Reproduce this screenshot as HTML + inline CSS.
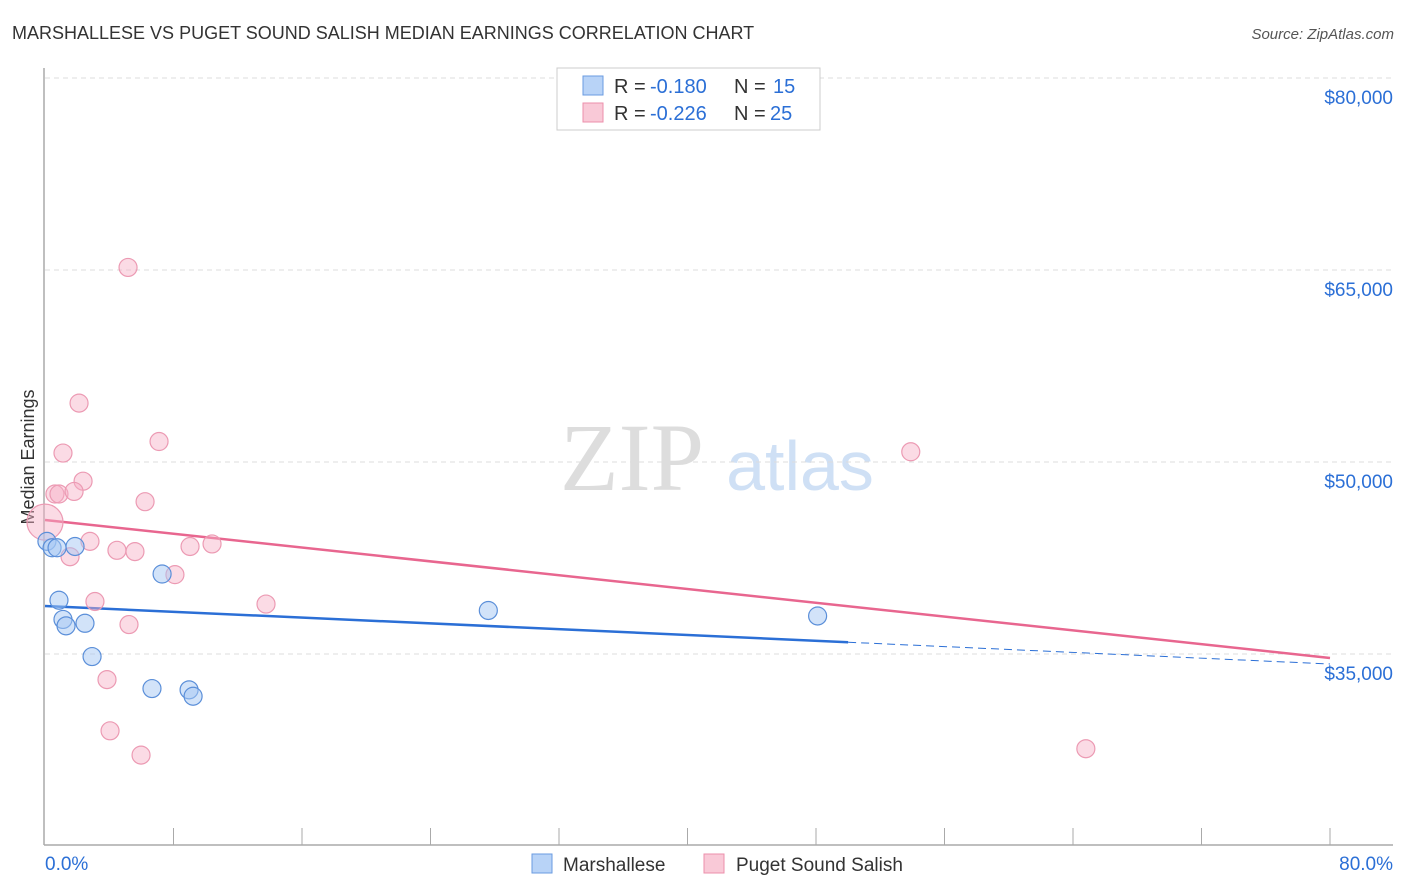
<!DOCTYPE html>
<html><head><meta charset="utf-8"><style>
body{margin:0;background:#fff;font-family:"Liberation Sans",sans-serif;}
svg{display:block}
</style></head><body>
<svg id="chart" width="1406" height="892">
<text x="12" y="39" font-size="18" fill="#333">MARSHALLESE VS PUGET SOUND SALISH MEDIAN EARNINGS CORRELATION CHART</text>
<text x="1394" y="39" font-size="15" fill="#555" font-style="italic" text-anchor="end">Source: ZipAtlas.com</text>
<text x="34" y="457" font-size="18" fill="#333" text-anchor="middle" transform="rotate(-90 34 457)">Median Earnings</text>
<g><text x="632" y="490" font-size="96" fill="#ddd" font-family="Liberation Serif,serif" text-anchor="middle">ZIP</text><text x="800" y="490" font-size="70" fill="#cfe0f5" text-anchor="middle">atlas</text></g>
<g id="grid"></g><g id="axes"></g><g id="trends"></g><g id="points"></g>
<g>
<rect x="557" y="68" width="263" height="62" fill="#fff" stroke="#ccc"/>
<rect x="583" y="76" width="20" height="19" fill="#b8d3f7" stroke="#6a9be0"/>
<text x="614" y="93" font-size="20" fill="#333">R =</text>
<text x="650" y="93" font-size="20" fill="#2b6fd6">-0.180</text>
<text x="734" y="93" font-size="20" fill="#333">N =</text>
<text x="773" y="93" font-size="20" fill="#2b6fd6">15</text>
<rect x="583" y="103" width="20" height="19" fill="#f9c9d7" stroke="#ec8fab"/>
<text x="614" y="120" font-size="20" fill="#333">R =</text>
<text x="650" y="120" font-size="20" fill="#2b6fd6">-0.226</text>
<text x="734" y="120" font-size="20" fill="#333">N =</text>
<text x="770" y="120" font-size="20" fill="#2b6fd6">25</text>
</g>
<g>
<rect x="532" y="854" width="20" height="19" fill="#b8d3f7" stroke="#6a9be0"/>
<text x="563" y="871" font-size="19" fill="#333">Marshallese</text>
<rect x="704" y="854" width="20" height="19" fill="#f9c9d7" stroke="#ec8fab"/>
<text x="736" y="871" font-size="19" fill="#333">Puget Sound Salish</text>
</g>
<text x="45" y="870" font-size="19" fill="#2b6fd6">0.0%</text>
<text x="1393" y="870" font-size="19" fill="#2b6fd6" text-anchor="end">80.0%</text>
</svg>
<script>
const yTicks=[35000,50000,65000,80000];
const yTickLabels=["$35,000","$50,000","$65,000","$80,000"];
const blueX=[0.12,0.44,0.75,1.87,0.87,1.12,1.31,2.49,2.93,6.66,7.29,8.97,9.22,27.6,48.1];
const blueY=[43.8,43.3,43.3,43.4,39.2,37.7,37.2,37.4,34.8,32.3,41.25,32.2,31.7,38.4,37.97];
const pinkX=[5.17,2.12,7.10,1.12,53.9,2.37,0.62,0.87,1.81,6.23,0.0,2.80,4.48,5.60,1.56,9.03,10.4,8.09,3.11,13.76,5.23,3.86,4.05,5.98,64.8];
const pinkY=[65.2,54.6,51.6,50.7,50.8,48.5,47.5,47.5,47.7,46.9,45.3,43.8,43.1,43.0,42.6,43.4,43.6,41.2,39.1,38.9,37.3,33.0,29.0,27.1,27.6];
const pinkSize=[1,1,1,1,1,1,1,1,1,1,2,1,1,1,1,1,1,1,1,1,1,1,1,1,1];
const blueTrend=[38.75,34.22];
const pinkTrend=[45.47,34.69];
const blueSolidEnd=50;
const NS="http://www.w3.org/2000/svg";
const xs=v=>45+v*(1285/80);
const ys=v=>78+(80-v)*(192/15);
function mk(t,a,p){const e=document.createElementNS(NS,t);for(const k in a)e.setAttribute(k,a[k]);p.appendChild(e);return e;}
const grid=document.getElementById('grid'),axes=document.getElementById('axes');
yTicks.forEach((t,i)=>{const y=ys(t/1000);
const l=mk('line',{x1:45,x2:1393,y1:y,y2:y,stroke:'#ddd','stroke-dasharray':'5,4'},grid);


const tx=mk('text',{x:1393,y:y+26,'font-size':19,fill:'#2b6fd6','text-anchor':'end'},axes);
tx.textContent=yTickLabels[i];

});
const ya=mk('line',{x1:44,x2:44,y1:68,y2:845,stroke:'#aaa','stroke-width':1.5},axes);


const xa=mk('line',{x1:44,x2:1393,y1:845,y2:845,stroke:'#aaa','stroke-width':1.5},axes);


for(let i=1;i<=10;i++){const x=xs(i*8);const t=mk('line',{x1:x,x2:x,y1:828,y2:845,stroke:'#aaa'},axes);

}
const tr=document.getElementById('trends');
const sy=v=>blueTrend[0]+(blueTrend[1]-blueTrend[0])*v/80;
const b1=mk('line',{x1:xs(0),y1:ys(blueTrend[0]),x2:xs(blueSolidEnd),y2:ys(sy(blueSolidEnd)),stroke:'#2b6fd6','stroke-width':2.5},tr);


const b2=mk('line',{x1:xs(blueSolidEnd),y1:ys(sy(blueSolidEnd)),x2:xs(80),y2:ys(blueTrend[1]),stroke:'#2b6fd6','stroke-width':1,'stroke-dasharray':'8,5'},tr);


const p1=mk('line',{x1:xs(0),y1:ys(pinkTrend[0]),x2:xs(80),y2:ys(pinkTrend[1]),stroke:'#e8668f','stroke-width':2.5},tr);


const pts=document.getElementById('points');
pinkX.forEach((x,i)=>{const c=mk('circle',{cx:xs(x),cy:ys(pinkY[i]),r:9*pinkSize[i],fill:'rgba(246,176,198,0.45)',stroke:'#ec9ab3','stroke-width':1.2},pts);

});
blueX.forEach((x,i)=>{const c=mk('circle',{cx:xs(x),cy:ys(blueY[i]),r:9,fill:'rgba(166,199,243,0.5)',stroke:'#5b8fd9','stroke-width':1.2},pts);

});
</script>
</body></html>
